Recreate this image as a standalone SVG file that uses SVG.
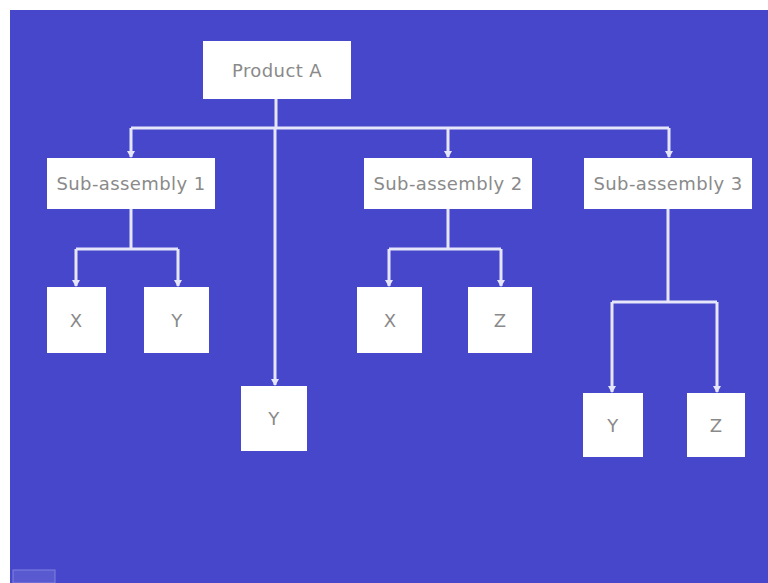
<svg xmlns="http://www.w3.org/2000/svg" width="768" height="583" viewBox="0 0 768 583">
<style>
.box{fill:#ffffff;}
.lbl{font-family:"DejaVu Sans","Liberation Sans",sans-serif;font-size:18px;fill:#8a8a8a;text-anchor:middle;letter-spacing:0.4px;}
.ln{stroke:#e6e6fa;stroke-width:3;fill:none;}
</style>
<defs>
<marker id="ah" markerWidth="8" markerHeight="8" refX="6" refY="4" orient="auto" markerUnits="userSpaceOnUse">
<path d="M0,0 L7,4 L0,8 Z" fill="#e6e6fa"/>
</marker>
</defs>
<rect x="0" y="0" width="768" height="583" fill="#ffffff"/>
<rect x="10" y="10" width="758" height="573" fill="#4747cc"/>
<rect x="13" y="570" width="42" height="13" fill="#5a5ad0" stroke="#8080e0" stroke-width="1"/>
<g id="connectors">
<path class="ln" d="M276,99 V128"/>
<path class="ln" d="M131,128 H669"/>
<path class="ln" d="M131,128 V157" marker-end="url(#ah)"/>
<path class="ln" d="M448,128 V157" marker-end="url(#ah)"/>
<path class="ln" d="M669,128 V157" marker-end="url(#ah)"/>
<path class="ln" d="M275,128 V385" marker-end="url(#ah)"/>
<path class="ln" d="M131,209 V249 M76,249 H178"/>
<path class="ln" d="M76,249 V286" marker-end="url(#ah)"/>
<path class="ln" d="M178,249 V286" marker-end="url(#ah)"/>
<path class="ln" d="M448,209 V249 M389,249 H501"/>
<path class="ln" d="M389,249 V286" marker-end="url(#ah)"/>
<path class="ln" d="M501,249 V286" marker-end="url(#ah)"/>
<path class="ln" d="M668,209 V302 M612,302 H717"/>
<path class="ln" d="M612,302 V392" marker-end="url(#ah)"/>
<path class="ln" d="M717,302 V392" marker-end="url(#ah)"/>
</g>
<g id="productA"><rect class="box" x="203" y="41" width="148" height="58"/><text class="lbl" x="277" y="77">Product A</text></g>
<g id="sub1"><rect class="box" x="47" y="158" width="168" height="51"/><text class="lbl" x="131" y="190">Sub-assembly 1</text></g>
<g id="sub2"><rect class="box" x="364" y="158" width="168" height="51"/><text class="lbl" x="448" y="190">Sub-assembly 2</text></g>
<g id="sub3"><rect class="box" x="584" y="158" width="168" height="51"/><text class="lbl" x="668" y="190">Sub-assembly 3</text></g>
<g id="s1x"><rect class="box" x="47" y="287" width="59" height="66"/><text class="lbl" x="76" y="327">X</text></g>
<g id="s1y"><rect class="box" x="144" y="287" width="65" height="66"/><text class="lbl" x="177" y="327">Y</text></g>
<g id="ay"><rect class="box" x="241" y="386" width="66" height="65"/><text class="lbl" x="274" y="425">Y</text></g>
<g id="s2x"><rect class="box" x="357" y="287" width="65" height="66"/><text class="lbl" x="390" y="327">X</text></g>
<g id="s2z"><rect class="box" x="468" y="287" width="64" height="66"/><text class="lbl" x="500" y="327">Z</text></g>
<g id="s3y"><rect class="box" x="583" y="393" width="60" height="64"/><text class="lbl" x="613" y="432">Y</text></g>
<g id="s3z"><rect class="box" x="687" y="393" width="58" height="64"/><text class="lbl" x="716" y="432">Z</text></g>
</svg>
